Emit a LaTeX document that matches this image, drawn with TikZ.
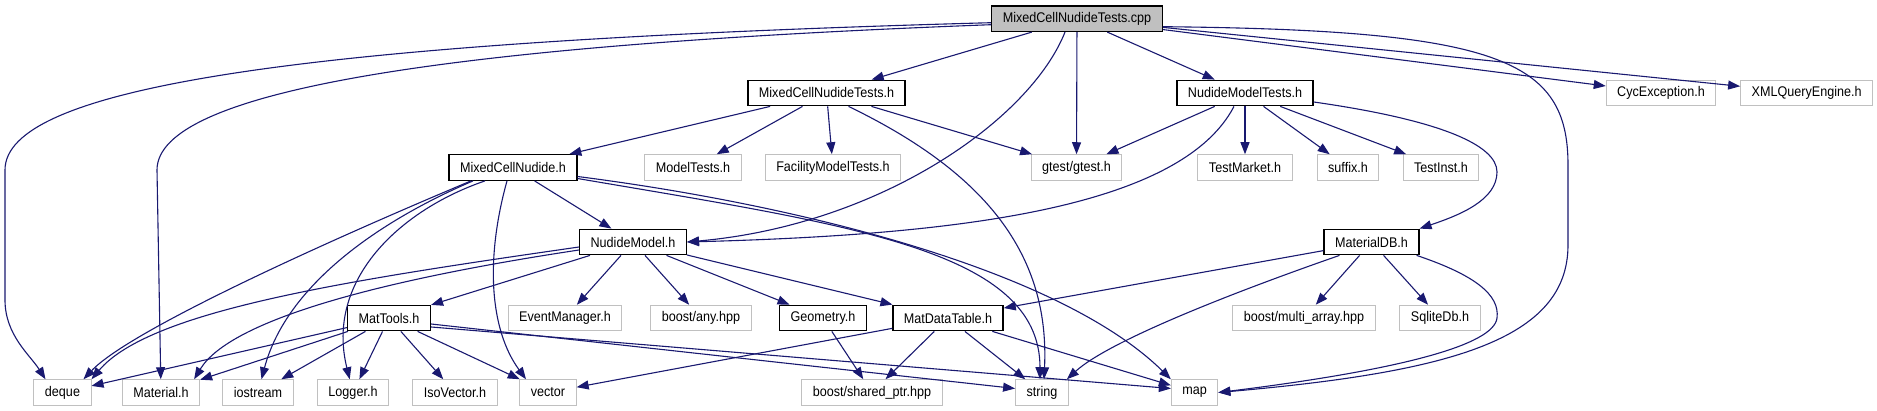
\documentclass[tikz,border=0pt]{standalone}
\usepackage{fontspec}
\setmainfont{Liberation Sans}[FakeStretch=0.9]
\usetikzlibrary{arrows.meta}
\definecolor{edgeblue}{HTML}{191970}
\definecolor{boxgray}{HTML}{C0C0C0}

\begin{document}
\begin{tikzpicture}[x=1pt,y=-1pt,
  ext/.style={draw=boxgray,line width=1pt,inner xsep=11pt,inner ysep=0pt,
    minimum height=25.5pt,font=\fontsize{14}{16}\selectfont},
  own/.style={ext,draw=black,line width=1.3pt},
  srcfile/.style={own,fill=boxgray},
  dep/.style={draw=edgeblue,line width=1.1pt,-{Triangle[length=12pt,width=9pt]}}]
\useasboundingbox (0,0) rectangle (1877,411);

\node[srcfile] (cpp) at (1077,18.7) {MixedCellNudideTests.cpp};
\node[own] (mcnt) at (826.5,93) {MixedCellNudideTests.h};
\node[own] (nmt) at (1245,93) {NudideModelTests.h};
\node[ext] (cyc) at (1661,93) {CycException.h};
\node[ext] (xml) at (1806.6,93) {XMLQueryEngine.h};
\node[own] (mcn) at (513,167.5) {MixedCellNudide.h};
\node[ext] (mtests) at (693,167.5) {ModelTests.h};
\node[ext] (fmtests) at (833,167.5) {FacilityModelTests.h};
\node[ext] (gtest) at (1076.5,167.5) {gtest/gtest.h};
\node[ext] (tmarket) at (1245,167.5) {TestMarket.h};
\node[ext] (suffix) at (1348,167.5) {suffix.h};
\node[ext] (tinst) at (1441,167.5) {TestInst.h};
\node[own] (nm) at (633,242) {NudideModel.h};
\node[own] (matdb) at (1371.5,242) {MaterialDB.h};
\node[own] (mattools) at (389,318) {MatTools.h};
\node[ext] (evmgr) at (565,318) {EventManager.h};
\node[ext] (anyhpp) at (701,318) {boost/any.hpp};
\node[own] (geom) at (823,318) {Geometry.h};
\node[own] (mdt) at (948,318) {MatDataTable.h};
\node[ext] (marray) at (1304,318) {boost/multi\_array.hpp};
\node[ext] (sqlite) at (1440,318) {SqliteDb.h};
\node[ext] (deque) at (62.5,392.5) {deque};
\node[ext] (material) at (161,392.5) {Material.h};
\node[ext] (iostream) at (258,392.5) {iostream};
\node[ext] (logger) at (353,392.5) {Logger.h};
\node[ext] (isovec) at (455,392.5) {IsoVector.h};
\node[ext] (vector) at (548,392.5) {vector};
\node[ext] (sharedptr) at (872,392.5) {boost/shared\_ptr.hpp};
\node[ext] (string) at (1042,392.5) {string};
\node[ext] (map) at (1194.6,392.5) {map};

% MixedCellNudideTests.cpp
\draw[dep] ([yshift=-4pt]cpp.west) .. controls (280,42) and (5,90) .. (5,170) -- (5,300) .. controls (5,335) and (30,355) .. ([xshift=12pt]deque.north west);
\draw[dep] ([yshift=-6pt]cpp.west) .. controls (450,45) and (157,90) .. (157,170) -- (material);
\draw[dep] (cpp) -- (mcnt);
\draw[dep] ([xshift=-12pt]cpp.south) .. controls (1030,120) and (880,225) .. (nm.east);
\draw[dep] (cpp) -- (gtest);
\draw[dep] (cpp) -- (nmt);
\draw[dep] (cpp) -- (cyc);
\draw[dep] (cpp) -- (xml);
\draw[dep] ([yshift=-8pt]cpp.east) .. controls (1500,30) and (1568,60) .. (1568,165) -- (1568,245) .. controls (1568,340) and (1450,372) .. (map.east);

% MixedCellNudideTests.h
\draw[dep] (mcnt) -- (mcn);
\draw[dep] (mcnt) -- (mtests);
\draw[dep] (mcnt) -- (fmtests);
\draw[dep] (mcnt) -- (gtest);
\draw[dep] ([xshift=22pt]mcnt.south) .. controls (980,170) and (1050,250) .. ([xshift=2pt]string.north);

% NudideModelTests.h
\draw[dep] (nmt) -- (gtest);
\draw[dep] ([xshift=-11pt]nmt.south) .. controls (1180,210) and (950,235) .. (nm.east);
\draw[dep] (nmt) -- (tmarket);
\draw[dep] (nmt) -- (suffix);
\draw[dep] (nmt) -- (tinst);
\draw[dep] ([yshift=-9pt]nmt.east) .. controls (1440,120) and (1497,145) .. (1497,172) .. controls (1497,200) and (1460,215) .. (matdb.north east);

% MixedCellNudide.h
\draw[dep] ([xshift=-42pt]mcn.south) .. controls (330,240) and (130,330) .. ([xshift=-8pt]deque.north east);
\draw[dep] (mcn) -- (nm);
\draw[dep] ([xshift=-40pt]mcn.south) .. controls (370,225) and (285,290) .. (iostream);
\draw[dep] ([xshift=-28pt]mcn.south) .. controls (400,210) and (325,280) .. (logger);
\draw[dep] ([xshift=-6pt]mcn.south) .. controls (485,260) and (490,330) .. ([xshift=-22pt]vector.north);
\draw[dep] ([yshift=-9pt]mcn.east) .. controls (800,205) and (1060,270) .. (map.north west);
\draw[dep] ([yshift=-11pt]mcn.east) .. controls (850,225) and (1040,250) .. ([xshift=-2pt]string.north);

% NudideModel.h
\draw[dep] ([yshift=-5pt]nm.west) .. controls (350,280) and (150,310) .. (deque.north east);
\draw[dep] ([yshift=-8pt]nm.west) .. controls (380,280) and (230,320) .. ([xshift=-6pt]material.north east);
\draw[dep] (nm) -- (mattools);
\draw[dep] (nm) -- (evmgr);
\draw[dep] (nm) -- (anyhpp);
\draw[dep] (nm) -- (geom);
\draw[dep] (nm) -- (mdt);

% MaterialDB.h
\draw[dep] (matdb) -- (mdt);
\draw[dep] ([xshift=-32pt]matdb.south) .. controls (1240,290) and (1110,340) .. ([xshift=-2pt]string.north east);
\draw[dep] (matdb) -- (marray);
\draw[dep] (matdb) -- (sqlite);
\draw[dep] ([xshift=-3pt]matdb.south east) .. controls (1475,275) and (1500,295) .. (1497,318) .. controls (1494,345) and (1400,370) .. (map.east);

% MatTools.h
\draw[dep] (mattools) -- (deque);
\draw[dep] (mattools) -- (material);
\draw[dep] (mattools) -- (iostream);
\draw[dep] (mattools) -- (logger);
\draw[dep] (mattools) -- (isovec);
\draw[dep] (mattools) -- (vector);
\draw[dep] ([yshift=-6pt]mattools.east) -- ([yshift=4pt]string.west);
\draw[dep] ([yshift=-9pt]mattools.east) -- ([yshift=4pt]map.west);

% Geometry.h and MatDataTable.h
\draw[dep] (geom) -- (sharedptr);
\draw[dep] (mdt) -- (vector);
\draw[dep] (mdt) -- (sharedptr);
\draw[dep] (mdt) -- (string);
\draw[dep] (mdt) -- (map);
\end{tikzpicture}
\end{document}
